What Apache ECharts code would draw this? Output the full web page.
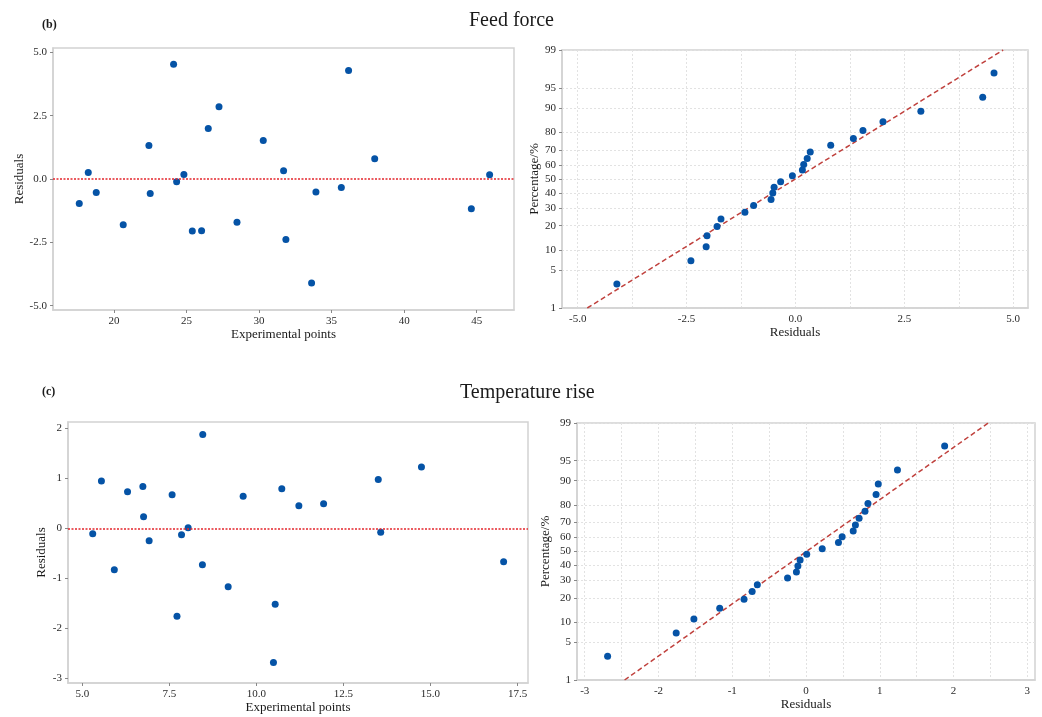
<!DOCTYPE html>
<html>
<head>
<meta charset="utf-8">
<script src="https://cdn.jsdelivr.net/npm/echarts@6/dist/echarts.min.js"></script>
<style>
  html, body { margin: 0; padding: 0; background: #fff; }
  #chart { width: 1042px; height: 717px; }
</style>
</head>
<body>
<div id="chart"></div>
<script>
// (b) Feed force - residuals vs experimental points
var ffX = [17.61, 18.23, 18.78, 20.64, 22.41, 22.50, 24.11, 24.32, 24.82, 25.40, 26.04, 26.50,
  27.24, 28.48, 30.29, 31.69, 31.85, 33.62, 33.92, 35.67, 36.17, 37.97, 44.63, 45.89];
var ffRes = [-0.97, 0.26, -0.53, -1.81, 1.32, -0.57, 4.53, -0.11, 0.18, -2.05, -2.04, 1.99,
  2.85, -1.71, 1.52, 0.33, -2.39, -4.10, -0.51, -0.34, 4.28, 0.80, -1.17, 0.17];
// (b) Feed force - normal probability plot
var ffProbRes = [-4.10, -2.40, -2.05, -2.03, -1.80, -1.71, -1.16, -0.96, -0.56, -0.52, -0.49, -0.34,
  -0.07, 0.16, 0.19, 0.27, 0.34, 0.81, 1.33, 1.55, 2.01, 2.88, 4.30, 4.56];
var ffProbPct = [2.9, 7.0, 11.1, 15.3, 19.6, 23.6, 27.5, 31.7, 35.6, 40.0, 44.0, 48.0,
  52.4, 56.5, 60.4, 64.5, 68.7, 72.8, 76.7, 80.9, 84.9, 88.9, 93.0, 97.2];
var ffFitRes = [-4.78, 4.77];
var ffFitPct = [1, 99];

// (c) Temperature rise - residuals vs experimental points
var trX = [5.30, 5.55, 5.92, 6.30, 6.74, 6.76, 6.92, 7.58, 7.72, 7.85, 8.04, 8.46,
  8.45, 9.19, 9.62, 10.49, 10.54, 10.73, 11.22, 11.93, 13.50, 13.57, 14.74, 17.10];
var trRes = [-0.11, 0.95, -0.83, 0.73, 0.84, 0.23, -0.25, 0.67, -1.76, -0.13, 0.01, 1.88,
  -0.73, -1.17, 0.64, -2.69, -1.52, 0.79, 0.45, 0.49, 0.98, -0.08, 1.23, -0.67];
// (c) Temperature rise - normal probability plot
var trProbRes = [-2.69, -1.76, -1.52, -1.17, -0.84, -0.73, -0.66, -0.25, -0.13, -0.11, -0.08, 0.01,
  0.22, 0.44, 0.49, 0.64, 0.67, 0.72, 0.80, 0.84, 0.95, 0.98, 1.24, 1.88];
var trProbPct = [2.9, 7.0, 11.1, 15.2, 19.4, 23.5, 27.3, 31.6, 35.5, 39.6, 43.8, 48.0,
  52.0, 56.4, 60.6, 64.5, 68.5, 72.7, 76.7, 80.8, 84.9, 88.9, 93.0, 97.2];
var trFitRes = [-2.46, 2.47];
var trFitPct = [1, 99];

// tick labels
var ffXTicks = [20, 25, 30, 35, 40, 45];
var ffYTicks = [-5, -2.5, 0, 2.5, 5];
var ffProbXTicks = [-5, -2.5, 0, 2.5, 5];
var ffProbXGrid = [-5, -3.75, -2.5, -1.25, 0, 1.25, 2.5, 3.75, 5];
var trXTicks = [5, 7.5, 10, 12.5, 15, 17.5];
var trYTicks = [-3, -2, -1, 0, 1, 2];
var trProbXTicks = [-3, -2, -1, 0, 1, 2, 3];
var trProbXGrid = [-3, -2.5, -2, -1.5, -1, -0.5, 0, 0.5, 1, 1.5, 2, 2.5, 3];
var pctTicks = [1, 5, 10, 20, 30, 40, 50, 60, 70, 80, 90, 95, 99];

// inverse of the standard normal CDF (Acklam), used for the probability axis
function probit(p) {
  var a = [-3.969683028665376e+01, 2.209460984245205e+02, -2.759285104469687e+02,
    1.383577518672690e+02, -3.066479806614716e+01, 2.506628277459239e+00];
  var b = [-5.447609879822406e+01, 1.615858368580409e+02, -1.556989798598866e+02,
    6.680131188771972e+01, -1.328068155288572e+01];
  var c = [-7.784894002430293e-03, -3.223964580411365e-01, -2.400758277161838e+00,
    -2.549732539343734e+00, 4.374664141464968e+00, 2.938163982698783e+00];
  var d = [7.784695709041462e-03, 3.224671290700398e-01, 2.445134137142996e+00,
    3.754408661907416e+00];
  var plow = 0.02425, q, r;
  if (p < plow) {
    q = Math.sqrt(-2 * Math.log(p));
    return (((((c[0] * q + c[1]) * q + c[2]) * q + c[3]) * q + c[4]) * q + c[5]) /
      ((((d[0] * q + d[1]) * q + d[2]) * q + d[3]) * q + 1);
  }
  if (p <= 1 - plow) {
    q = p - 0.5;
    r = q * q;
    return (((((a[0] * r + a[1]) * r + a[2]) * r + a[3]) * r + a[4]) * r + a[5]) * q /
      (((((b[0] * r + b[1]) * r + b[2]) * r + b[3]) * r + b[4]) * r + 1);
  }
  q = Math.sqrt(-2 * Math.log(1 - p));
  return -(((((c[0] * q + c[1]) * q + c[2]) * q + c[3]) * q + c[4]) * q + c[5]) /
    ((((d[0] * q + d[1]) * q + d[2]) * q + d[3]) * q + 1);
}

var zTicks = pctTicks.map(function (p) { return probit(p / 100); });
var zMin = zTicks[0], zMax = zTicks[zTicks.length - 1];

function pctLabel(v) {
  for (var i = 0; i < zTicks.length; i++) {
    if (Math.abs(zTicks[i] - v) < 1e-6) return String(pctTicks[i]);
  }
  return "";
}

function zip(xs, ys) {
  return xs.map(function (x, i) { return [x, ys[i]]; });
}
function zipProb(xs, ps) {
  return xs.map(function (x, i) { return [x, probit(ps[i] / 100)]; });
}

var FONT = "Liberation Serif";
var boxColor = "#d2d2d2";
var dotColor = "#0553a6";

function valueAxis(idx, min, max, ticks, fmt, extra) {
  var ax = {
    type: "value",
    gridIndex: idx,
    min: min,
    max: max,
    axisLine: { show: true, onZero: false, lineStyle: { color: boxColor, width: 1.5 } },
    axisTick: { show: true, length: 3, customValues: ticks, lineStyle: { color: "#888" } },
    axisLabel: {
      customValues: ticks,
      formatter: fmt,
      fontFamily: FONT,
      fontSize: 11,
      color: "#2a2a2a",
      margin: 6,
    },
    splitLine: { show: false },
    nameLocation: "middle",
    nameTextStyle: { fontFamily: FONT, fontSize: 13, color: "#1a1a1a" },
  };
  for (var k in extra) ax[k] = extra[k];
  return ax;
}

var gridLineStyle = { color: "#e2e2e2", type: [2, 2], width: 1 };
var dotStyle = { color: dotColor, opacity: 1 };

var myChart = echarts.init(document.getElementById("chart"));

var option = {
  backgroundColor: "#fff",
  animation: false,
  title: [
    { text: "(b)", left: 37, top: 14, textStyle: { fontFamily: FONT, fontSize: 12, fontWeight: "bold", color: "#1a1a1a" } },
    { text: "Feed force", left: 464, top: 6, textStyle: { fontFamily: FONT, fontSize: 20, fontWeight: "normal", color: "#1a1a1a" } },
    { text: "(c)", left: 37, top: 381, textStyle: { fontFamily: FONT, fontSize: 12, fontWeight: "bold", color: "#1a1a1a" } },
    { text: "Temperature rise", left: 455, top: 378, textStyle: { fontFamily: FONT, fontSize: 20, fontWeight: "normal", color: "#1a1a1a" } },
  ],
  grid: [
    { left: 53, top: 48, width: 461, height: 262, show: true, borderColor: boxColor, borderWidth: 1.5 },
    { left: 562, top: 50, width: 466, height: 258, show: true, borderColor: boxColor, borderWidth: 1.5 },
    { left: 68, top: 422, width: 460, height: 261, show: true, borderColor: boxColor, borderWidth: 1.5 },
    { left: 577, top: 423, width: 458, height: 257, show: true, borderColor: boxColor, borderWidth: 1.5 },
  ],
  xAxis: [
    valueAxis(0, 15.8, 47.57, ffXTicks, function (v) { return String(v); },
      { name: "Experimental points", nameGap: 17 }),
    valueAxis(1, -5.36, 5.34, ffProbXTicks, function (v) { return v.toFixed(1); },
      {
        name: "Residuals", nameGap: 16,
        axisTick: { show: false, customValues: ffProbXGrid },
        splitLine: { show: true, lineStyle: gridLineStyle },
      }),
    valueAxis(2, 4.59, 17.8, trXTicks, function (v) { return v.toFixed(1); },
      { name: "Experimental points", nameGap: 15 }),
    valueAxis(3, -3.105, 3.105, trProbXTicks, function (v) { return String(v); },
      {
        name: "Residuals", nameGap: 15,
        axisTick: { show: false, customValues: trProbXGrid },
        splitLine: { show: true, lineStyle: gridLineStyle },
      }),
  ],
  yAxis: [
    valueAxis(0, -5.17, 5.17, ffYTicks, function (v) { return v.toFixed(1); },
      { name: "Residuals", nameGap: 27 }),
    valueAxis(1, zMin, zMax, zTicks, pctLabel,
      { name: "Percentage/%", nameGap: 21, splitLine: { show: true, lineStyle: gridLineStyle } }),
    valueAxis(2, -3.1, 2.13, trYTicks, function (v) { return String(v); },
      { name: "Residuals", nameGap: 20 }),
    valueAxis(3, zMin, zMax, zTicks, pctLabel,
      { name: "Percentage/%", nameGap: 25, splitLine: { show: true, lineStyle: gridLineStyle } }),
  ],
  series: [
    {
      type: "scatter",
      xAxisIndex: 0,
      yAxisIndex: 0,
      data: zip(ffX, ffRes),
      symbolSize: 7,
      itemStyle: dotStyle,
      markLine: {
        silent: true,
        symbol: "none",
        label: { show: false },
        lineStyle: { color: "#e4252b", type: [2, 1.5], width: 1.5 },
        data: [{ yAxis: 0 }],
      },
    },
    {
      type: "line",
      xAxisIndex: 1,
      yAxisIndex: 1,
      data: zipProb(ffFitRes, ffFitPct),
      showSymbol: false,
      lineStyle: { color: "#c0413d", type: [5, 3], width: 1.5 },
      z: 1,
    },
    {
      type: "scatter",
      xAxisIndex: 1,
      yAxisIndex: 1,
      data: zipProb(ffProbRes, ffProbPct),
      symbolSize: 7,
      itemStyle: dotStyle,
      z: 3,
    },
    {
      type: "scatter",
      xAxisIndex: 2,
      yAxisIndex: 2,
      data: zip(trX, trRes),
      symbolSize: 7,
      itemStyle: dotStyle,
      markLine: {
        silent: true,
        symbol: "none",
        label: { show: false },
        lineStyle: { color: "#e4252b", type: [2, 1.5], width: 1.5 },
        data: [{ yAxis: 0 }],
      },
    },
    {
      type: "line",
      xAxisIndex: 3,
      yAxisIndex: 3,
      data: zipProb(trFitRes, trFitPct),
      showSymbol: false,
      lineStyle: { color: "#c0413d", type: [5, 3], width: 1.5 },
      z: 1,
    },
    {
      type: "scatter",
      xAxisIndex: 3,
      yAxisIndex: 3,
      data: zipProb(trProbRes, trProbPct),
      symbolSize: 7,
      itemStyle: dotStyle,
      z: 3,
    },
  ],
};
myChart.setOption(option);
</script>
</body>
</html>
